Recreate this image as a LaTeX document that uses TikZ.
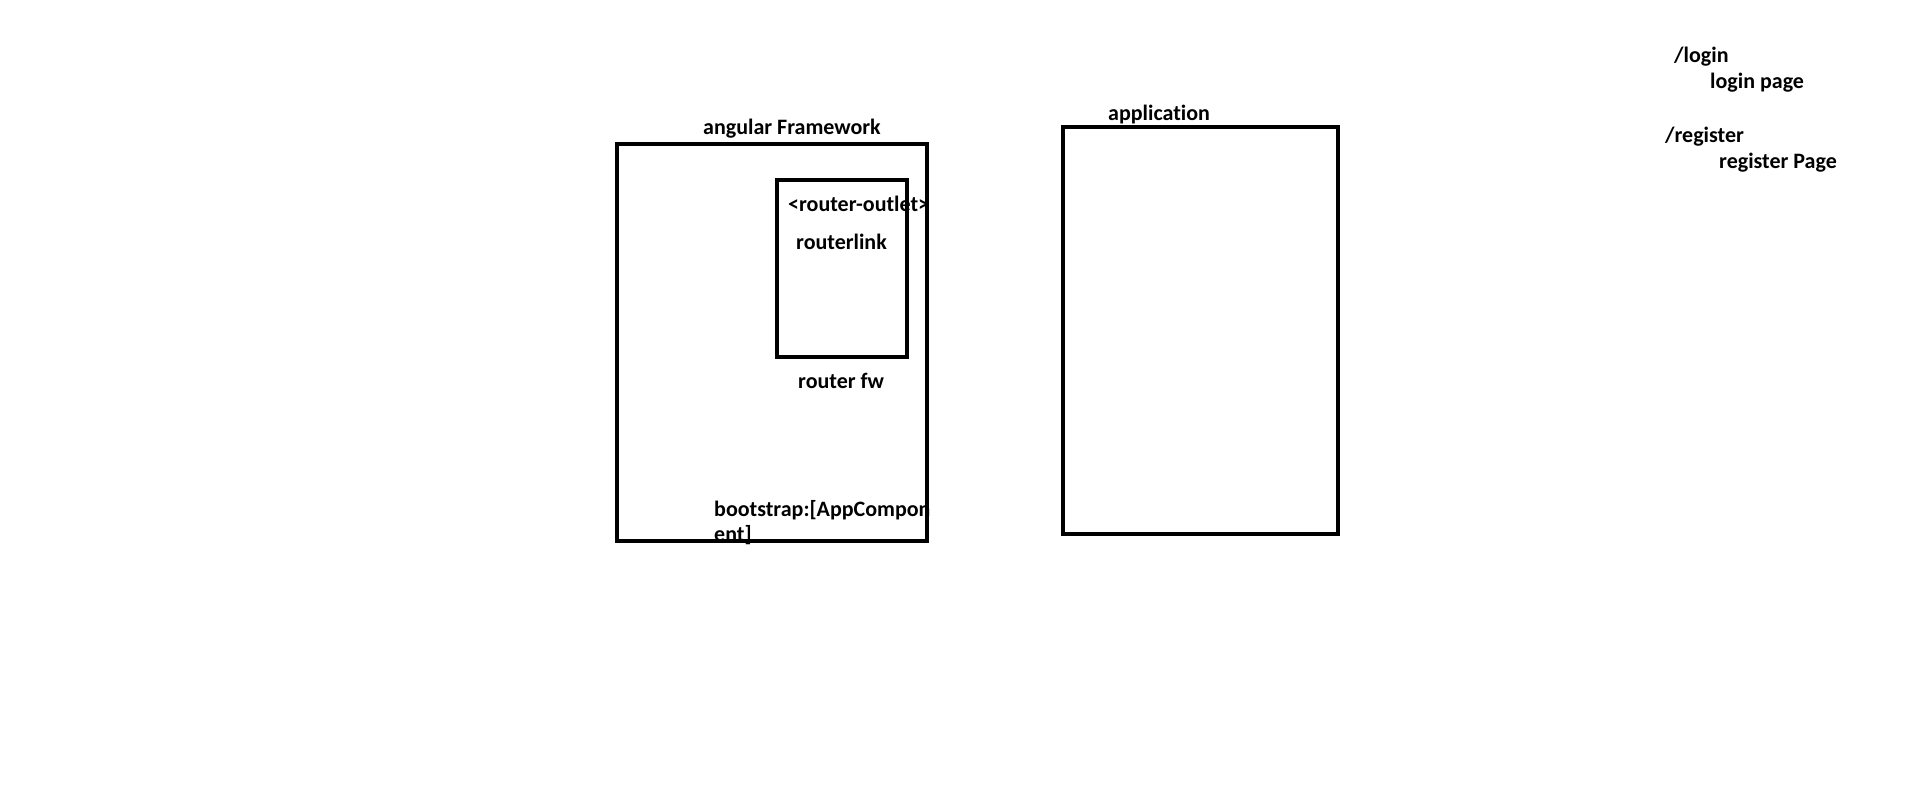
\documentclass[tikz,border=0pt]{standalone}
\usepackage{fontspec}
\setmainfont[Ligatures=NoCommon]{Carlito}
\usepackage{tikz}

\tikzset{
  lbl/.style={anchor=base west, inner sep=0pt, font=\bfseries\fontsize{22}{25}\selectfont},
  box/.style={line width=4pt}
}

\begin{document}
\begin{tikzpicture}[x=1pt, y=-1pt]
    \useasboundingbox (0,0) rectangle (1914,809);

    % Beschriftungen angular Framework
    \node[lbl] (fwtitle) at (703,134) {angular Framework};
    \node[lbl] (outlet) at (788,211) {<router-outlet>};
    \node[lbl] (rlink) at (796,249) {routerlink};
    \node[lbl] (rfw) at (798,388) {router fw};
    \node[lbl, align=left] (boot) at (714,541) {bootstrap:[AppCompon\\ent]};

    % application
    \node[lbl] (apptitle) at (1108,120) {application};

    % Routen
    \node[lbl] (login) at (1674,62) {/login};
    \node[lbl] (loginpg) at (1710,88) {login page};
    \node[lbl] (register) at (1665,142) {/register};
    \node[lbl] (registerpg) at (1719,168) {register Page};

    % Kaesten
    \draw[box] (617,144) rectangle (927,541);
    \draw[box] (777,180) rectangle (907,357);
    \draw[box] (1063,127) rectangle (1338,534);

\end{tikzpicture}
\end{document}
